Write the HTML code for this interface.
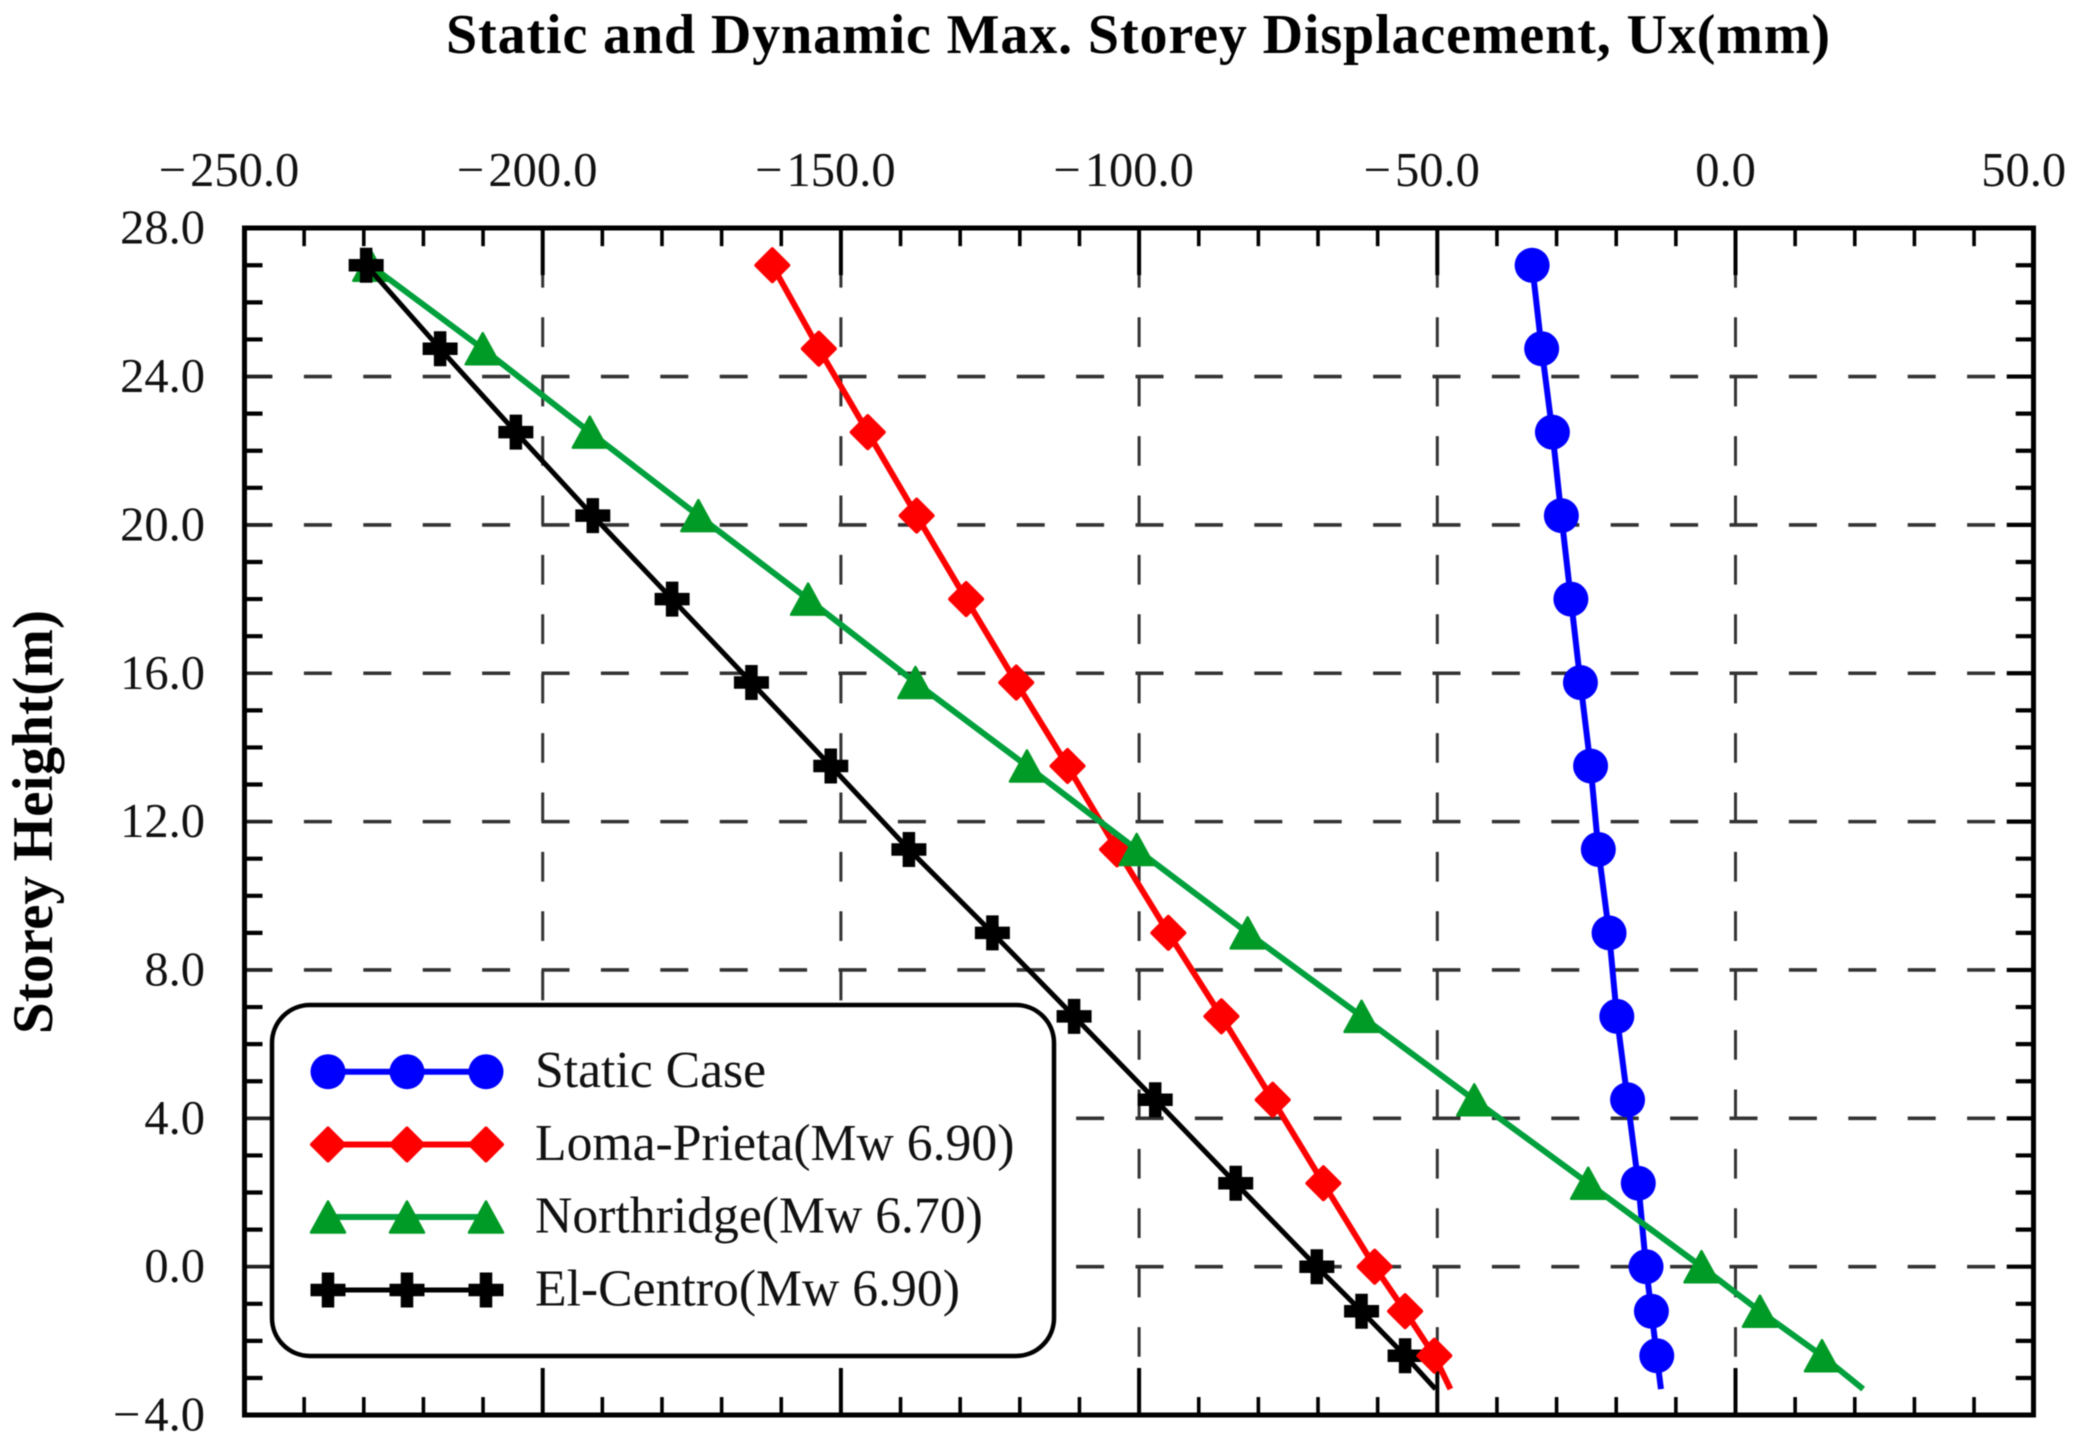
<!DOCTYPE html>
<html lang="en">
<head>
<meta charset="utf-8">
<title>Static and Dynamic Max. Storey Displacement</title>
<style>
html,body{margin:0;padding:0;background:#fff;width:2075px;height:1450px;overflow:hidden}
svg{display:block;filter:blur(0.6px)}
text{font-family:"Liberation Serif",serif;fill:#111}
</style>
</head>
<body>
<svg id="chart" xmlns="http://www.w3.org/2000/svg" width="2075" height="1450" viewBox="0 0 2075 1450">
  <rect x="0" y="0" width="2075" height="1450" fill="#fff"/>
  <text x="446" y="53" font-size="56" font-weight="bold" textLength="1384" lengthAdjust="spacing" style="fill:#000">Static and Dynamic Max. Storey Displacement, Ux(mm)</text>
  <text transform="translate(52,1034) rotate(-90)" font-size="57" font-weight="bold" textLength="424" lengthAdjust="spacing" style="fill:#000">Storey Height(m)</text>
  <g id="grid"></g>
  <g id="ticks"></g>
  <g id="labels"></g>
  <g id="series"></g>
  <rect x="244.5" y="228" width="1789" height="1187" fill="none" stroke="#000" stroke-width="5"/>
  <g id="legend"></g>
</svg>
<script>
const heights = [27, 24.75, 22.5, 20.25, 18, 15.75, 13.5, 11.25, 9, 6.75, 4.5, 2.25, 0, -1.2, -2.4, -3.3];
const staticCase = [-34.1, -32.5, -30.7, -29.2, -27.6, -26.0, -24.3, -23.0, -21.2, -19.9, -18.1, -16.3, -15.0, -14.1, -13.2, -12.5];
const lomaPrieta = [-161.5, -153.7, -145.5, -137.3, -129.0, -120.6, -112.0, -103.7, -95.1, -86.2, -77.6, -69.1, -60.5, -55.4, -50.5, -47.8];
const northridge = [-228.9, -210.05, -192.1, -173.9, -155.5, -137.5, -118.8, -100.4, -81.8, -62.7, -43.8, -24.7, -5.7, 4.1, 14.5, 21.4];
const elCentro = [-229.6, -217.2, -204.5, -191.6, -178.3, -165.0, -151.7, -138.6, -124.6, -110.9, -97.3, -83.8, -70.2, -62.7, -55.4, -50.3];
const xTicks = [-250, -200, -150, -100, -50, 0, 50];
const yTicks = [28, 24, 20, 16, 12, 8, 4, 0, -4];
const legendLabels = ["Static Case", "Loma-Prieta(Mw 6.90)", "Northridge(Mw 6.70)", "El-Centro(Mw 6.90)"];

const NS = "http://www.w3.org/2000/svg";
const xOf = v => 1735.5 + (v * 298.2) / 50;
const yOf = v => 1266.7 - v * 37.09;
const XMIN = -250, XMAX = 50, YMIN = -4, YMAX = 28;

function make(tag, attrs, parent) {
  const e = document.createElementNS(NS, tag);
  for (const k in attrs) e.setAttribute(k, attrs[k]);
  parent.appendChild(e);
  return e;
}
function fmt(v) {
  return (v < 0 ? "\u2212\u200a" : "") + Math.abs(v).toFixed(1);
}

const grid = document.getElementById("grid");
const ticks = document.getElementById("ticks");
const labels = document.getElementById("labels");
const seriesG = document.getElementById("series");
const legendG = document.getElementById("legend");

/* grid */
yTicks.forEach(v => {
  if (v === YMIN || v === YMAX) return;
  const l = make("line", {x1: xOf(XMIN), x2: xOf(XMAX), y1: yOf(v), y2: yOf(v), stroke: "#333", "stroke-width": 3.6, "stroke-dasharray": "28 31.4"}, grid);
  
  
});
xTicks.forEach(v => {
  if (v === XMIN || v === XMAX) return;
  const l = make("line", {x1: xOf(v), x2: xOf(v), y1: yOf(YMAX), y2: yOf(YMIN), stroke: "#333", "stroke-width": 3, "stroke-dasharray": "29.7 29.7", "stroke-dashoffset": 29.7}, grid);
  
  
});

/* ticks */
for (let v = XMIN + 10; v < XMAX; v += 10) {
  const major = v % 50 === 0;
  const len = major ? 47 : 18;
  const t1 = make("line", {x1: xOf(v), x2: xOf(v), y1: yOf(YMAX), y2: yOf(YMAX) + len, stroke: "#000", "stroke-width": major ? 4 : 3.6}, ticks);
  
  
  const t2 = make("line", {x1: xOf(v), x2: xOf(v), y1: yOf(YMIN), y2: yOf(YMIN) - len, stroke: "#000", "stroke-width": major ? 4 : 3.6}, ticks);
  
  
}
for (let v = YMIN + 1; v < YMAX; v += 1) {
  const major = v % 4 === 0;
  const t1 = make("line", {x1: xOf(XMIN), x2: xOf(XMIN) + (major ? 27 : 18), y1: yOf(v), y2: yOf(v), stroke: major ? "#222" : "#000", "stroke-width": major ? 3.6 : 4.2}, ticks);
  
  
  const t2 = make("line", {x1: xOf(XMAX), x2: xOf(XMAX) - (major ? 27 : 18), y1: yOf(v), y2: yOf(v), stroke: "#000", "stroke-width": 4.2}, ticks);
  
  
}

/* tick labels */
xTicks.forEach(v => {
  const t = make("text", {x: xOf(v) + (v < 0 ? -15.5 : -10), y: 186, "font-size": 48.5, "text-anchor": "middle"}, labels);
  
  
  t.textContent = fmt(v);
});
yTicks.forEach(v => {
  const t = make("text", {x: 205, y: yOf(v) + 15.5, "font-size": 48.5, "text-anchor": "end"}, labels);
  
  
  t.textContent = fmt(v);
});

/* markers */
function marker(kind, x, y, color, parent) {
  let m;
  if (kind === "circle") {
    m = make("circle", {cx: x, cy: y, r: 17.5, fill: color}, parent);
  } else if (kind === "diamond") {
    m = make("polygon", {points: [[x, y - 16], [x + 16, y], [x, y + 16], [x - 16, y]].map(p => p.join(",")).join(" "), fill: color, stroke: color, "stroke-width": 4, "stroke-linejoin": "round"}, parent);
  } else if (kind === "triangle") {
    m = make("polygon", {points: [[x, y - 15.5], [x + 17, y + 15.5], [x - 17, y + 15.5]].map(p => p.join(",")).join(" "), fill: color, stroke: color, "stroke-width": 2.5, "stroke-linejoin": "round"}, parent);
  } else {
    m = make("path", {d: "M" + (x - 17.5) + " " + y + "H" + (x + 17.5) + "M" + x + " " + (y - 17.5) + "V" + (y + 17.5), fill: "none", stroke: color, "stroke-width": 12.5, "stroke-linecap": "butt"}, parent);
  }
  return m;
}

const seriesDefs = [
  {key: "static-case", values: staticCase, color: "#0000ff", lineColor: "#0000ff", kind: "circle", width: 6},
  {key: "loma-prieta", values: lomaPrieta, color: "#ff0000", lineColor: "#ff0000", kind: "diamond", width: 6},
  {key: "northridge", values: northridge, color: "#009a26", lineColor: "#00a03c", kind: "triangle", width: 6},
  {key: "el-centro", values: elCentro, color: "#000000", lineColor: "#000000", kind: "cross", width: 5}
];

seriesDefs.forEach(s => {
  const g = make("g", {}, seriesG);
  
  
  const line = make("polyline", {points: s.values.map((v, i) => xOf(v) + "," + yOf(heights[i])).join(" "), fill: "none", stroke: s.lineColor, "stroke-width": s.width, "stroke-linejoin": "round"}, g);
  
  
  s.values.forEach((v, i) => {
    if (i === s.values.length - 1) return;
    if (s.key === "loma-prieta" && i === s.values.length - 2) return;
    const m = marker(s.kind, xOf(v), yOf(heights[i]), s.color, g);
    
    
  });
});
/* the lowest Loma-Prieta marker sits on top of El-Centro in the source */
const lastIdx = lomaPrieta.length - 2;
const topMarker = marker("diamond", xOf(lomaPrieta[lastIdx]), yOf(heights[lastIdx]), "#ff0000", seriesG);



/* legend */
const legendBox = make("rect", {x: 272, y: 1005, width: 782, height: 351, rx: 38, ry: 38, fill: "#fff", stroke: "#000", "stroke-width": 4.5}, legendG);


const legendRows = [1071.7, 1144.5, 1217, 1290];
legendLabels.forEach((label, i) => {
  const s = seriesDefs[i];
  const y = legendRows[i];
  const g = make("g", {}, legendG);
  
  
  const l = make("line", {x1: 328, x2: 486, y1: y, y2: y, stroke: s.lineColor, "stroke-width": s.width}, g);
  
  
  [328, 407, 486].forEach(x => {
    const m = marker(s.kind, x, y, s.color, g);
    
    
  });
  const t = make("text", {x: 535, y: y + 15.5, "font-size": 51.7}, g);
  
  
  t.textContent = label;
});
</script>
</body>
</html>
